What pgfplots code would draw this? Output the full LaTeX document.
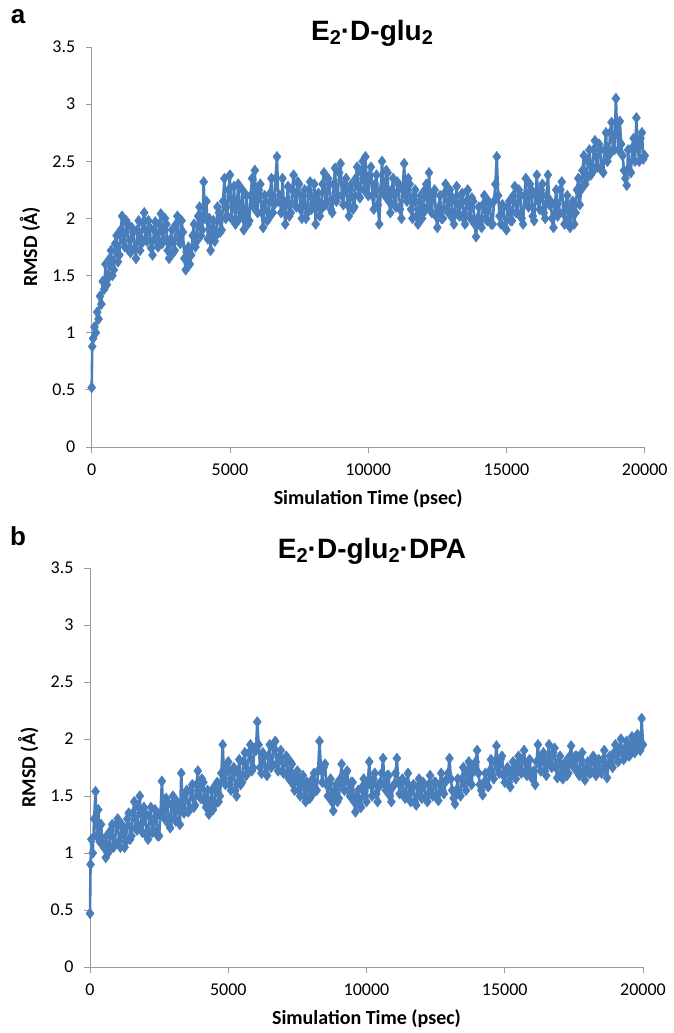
\documentclass[border=0pt]{standalone}
\usepackage{fontspec}
\setmainfont{Carlito}
\newfontfamily\arial{Liberation Sans}
\usepackage{pgfplots}
\pgfplotsset{compat=1.18}
\definecolor{xlblue}{HTML}{4A7EBB}
\definecolor{xlgrey}{HTML}{9A9A9A}

\newcommand\sub[1]{\raisebox{-0.32ex}{\fontsize{20}{20}\selectfont #1}}

\pgfplotsset{rmsd/.style={
  scale only axis,width=553pt,
  xmin=0,xmax=20000,ymin=0,ymax=3.5,
  axis x line*=bottom,axis y line*=left,
  axis line style={xlgrey,line width=0.8pt},
  tick style={xlgrey,line width=0.8pt},
  tick align=outside,major tick length=6pt,
  xtick={0,5000,10000,15000,20000},
  ytick={0,0.5,1,1.5,2,2.5,3,3.5},
  scaled x ticks=false,
  /pgf/number format/1000 sep={},
  /pgf/number format/assume math mode=true,
  tick label style={font=\fontsize{18}{18}\selectfont},
  xticklabel style={anchor=center,yshift=-17pt},
  yticklabel style={xshift=-7pt},
  xlabel={\bfseries Simulation Time (psec)},
  ylabel={\bfseries RMSD (Å)},
  label style={font=\fontsize{20}{20}\selectfont},
  xlabel style={at={(axis description cs:0.5,0)},anchor=center,yshift=-52pt},
  ylabel style={at={(axis description cs:-0.1116,0.5)},anchor=center},
  clip=false,
},
trace/.style={color=xlblue,line width=2.6pt,line join=round,mark=diamond*,mark size=5.4pt,
  mark options={solid,line width=0.4pt,draw=xlblue,fill=xlblue}}}

\begin{document}
\begin{tikzpicture}
\useasboundingbox (0,0) rectangle (674pt,-1033pt);

\node[font=\arial\bfseries\fontsize{26}{26}\selectfont] at (18pt,-17pt) {a};
\node[font=\arial\bfseries\fontsize{28}{28}\selectfont] at (372pt,-33pt) {E\sub2·D-glu\sub2};

% panel a: E2.D-glu2
\begin{axis}[rmsd,height=400pt,at={(91.7pt,-447pt)},anchor=south west]
\addplot[trace] coordinates {
(0,0.52)(20,0.88)(50,0.95)(100,1.05)(150,1.0)(200,1.18)(250,1.12)(300,1.32)(350,1.25)(400,1.45)(450,1.38)(500,1.6)(550,1.42)(600,1.48)(650,1.65)(700,1.72)(750,1.5)(800,1.55)(850,1.78)(900,1.85)(950,1.62)(1000,1.68)
(1050,1.9)(1100,2.02)(1150,1.8)(1200,1.75)(1250,1.98)(1300,1.95)(1350,1.72)(1400,1.7)(1450,1.92)(1500,1.88)(1550,1.74)(1600,1.65)(1650,1.9)(1700,1.98)(1750,1.72)(1800,1.78)(1850,1.96)(1900,2.05)(1950,1.82)(2000,1.8)
(2050,1.98)(2100,1.92)(2150,1.74)(2200,1.68)(2250,1.9)(2300,1.97)(2350,1.8)(2400,1.75)(2450,1.95)(2500,2.04)(2550,1.78)(2600,1.82)(2650,2.0)(2700,1.95)(2750,1.72)(2800,1.65)(2850,1.82)(2900,1.9)(2950,1.7)(3000,1.72)
(3050,1.95)(3100,2.02)(3150,1.82)(3200,1.78)(3250,1.98)(3300,1.88)(3350,1.65)(3400,1.55)(3450,1.7)(3500,1.75)(3550,1.6)(3600,1.68)(3650,1.85)(3700,1.95)(3750,1.75)(3800,1.8)(3850,2.02)(3900,2.1)(3950,1.85)(4000,1.9)
(4050,2.32)(4100,2.0)(4150,2.15)(4200,1.82)(4250,2.0)(4300,1.72)(4350,1.9)(4400,1.98)(4450,1.8)(4500,1.85)(4550,2.1)(4600,2.05)(4650,1.88)(4700,1.9)(4750,2.15)(4800,2.35)(4850,2.0)(4900,2.02)(4950,2.25)(5000,2.38)
(5050,2.0)(5100,2.1)(5150,2.28)(5200,1.95)(5250,2.12)(5300,2.3)(5350,2.0)(5400,2.05)(5450,2.25)(5500,1.9)(5550,2.05)(5600,2.2)(5650,1.95)(5700,1.98)(5750,2.2)(5800,2.35)(5850,2.1)(5900,2.42)(5950,2.15)(6000,2.05)
(6050,2.25)(6100,2.3)(6150,2.05)(6200,1.92)(6250,2.2)(6300,2.15)(6350,1.98)(6400,2.0)(6450,2.22)(6500,2.35)(6550,2.05)(6600,2.12)(6650,2.35)(6700,2.54)(6750,2.15)(6800,2.2)(6850,2.05)(6900,2.35)(6950,2.12)(7000,1.95)
(7050,2.15)(7100,2.28)(7150,2.02)(7200,2.05)(7250,2.25)(7300,2.38)(7350,2.12)(7400,2.1)(7450,2.32)(7500,2.3)(7550,2.08)(7600,2.0)(7650,2.2)(7700,2.25)(7750,2.0)(7800,2.05)(7850,2.25)(7900,2.32)(7950,2.08)(8000,2.12)
(8050,2.3)(8100,1.95)(8150,2.15)(8200,2.22)(8250,2.02)(8300,2.08)(8350,2.3)(8400,2.4)(8450,2.12)(8500,2.15)(8550,2.35)(8600,2.3)(8650,2.08)(8700,2.05)(8750,2.3)(8800,2.44)(8850,2.15)(8900,2.2)(8950,2.4)(9000,2.48)
(9050,2.2)(9100,2.12)(9150,2.3)(9200,2.35)(9250,2.12)(9300,2.02)(9350,2.25)(9400,2.3)(9450,2.08)(9500,2.1)(9550,2.35)(9600,2.45)(9650,2.2)(9700,2.18)(9750,2.4)(9800,2.5)(9850,2.25)(9900,2.54)(9950,2.3)(10000,2.2)
(10050,2.38)(10100,2.45)(10150,2.2)(10200,2.08)(10250,2.3)(10300,2.38)(10350,2.12)(10400,1.95)(10450,2.25)(10500,2.5)(10550,2.25)(10600,2.2)(10650,2.42)(10700,2.4)(10750,2.15)(10800,2.05)(10850,2.25)(10900,2.35)(10950,2.12)(11000,2.1)
(11050,2.32)(11100,2.3)(11150,2.08)(11200,2.0)(11250,2.25)(11300,2.48)(11350,2.2)(11400,2.15)(11450,2.35)(11500,2.3)(11550,2.08)(11600,2.0)(11650,2.2)(11700,2.25)(11750,2.02)(11800,1.95)(11850,2.15)(11900,2.2)(11950,2.0)(12000,2.05)
(12050,2.25)(12100,2.3)(12150,2.1)(12200,2.4)(12250,2.15)(12300,2.05)(12350,2.22)(12400,2.25)(12450,2.02)(12500,1.92)(12550,2.1)(12600,2.2)(12650,2.0)(12700,2.0)(12750,2.22)(12800,2.3)(12850,2.08)(12900,2.05)(12950,2.25)(13000,2.2)
(13050,2.0)(13100,1.95)(13150,2.15)(13200,2.28)(13250,2.05)(13300,2.02)(13350,2.2)(13400,2.22)(13450,2.0)(13500,1.95)(13550,2.15)(13600,2.25)(13650,2.02)(13700,2.0)(13750,2.18)(13800,2.15)(13850,1.95)(13900,1.84)(13950,2.0)(14000,2.1)
(14050,1.95)(14100,1.92)(14150,2.12)(14200,2.2)(14250,2.0)(14300,1.98)(14350,2.15)(14400,2.12)(14450,1.95)(14500,1.95)(14550,2.15)(14600,2.3)(14650,2.54)(14700,2.2)(14750,2.02)(14800,1.95)(14850,2.12)(14900,2.1)(14950,1.92)(15000,1.9)
(15050,2.1)(15100,2.15)(15150,1.98)(15200,1.98)(15250,2.2)(15300,2.28)(15350,2.05)(15400,2.05)(15450,2.25)(15500,2.2)(15550,2.0)(15600,1.95)(15650,2.2)(15700,2.35)(15750,2.12)(15800,2.1)(15850,2.3)(15900,2.25)(15950,2.02)(16000,1.98)
(16050,2.2)(16100,2.38)(16150,2.15)(16200,2.08)(16250,2.25)(16300,2.3)(16350,2.05)(16400,2.0)(16450,2.2)(16500,2.38)(16550,2.12)(16600,2.15)(16650,2.0)(16700,1.92)(16750,2.12)(16800,2.25)(16850,2.02)(16900,2.05)(16950,2.25)(17000,2.32)
(17050,2.05)(17100,1.95)(17150,2.12)(17200,2.2)(17250,2.0)(17300,1.92)(17350,2.1)(17400,2.15)(17450,1.95)(17500,2.05)(17550,2.25)(17600,2.35)(17650,2.12)(17700,2.25)(17750,2.42)(17800,2.55)(17850,2.3)(17900,2.35)(17950,2.5)(18000,2.6)
(18050,2.38)(18100,2.4)(18150,2.6)(18200,2.68)(18250,2.45)(18300,2.45)(18350,2.65)(18400,2.6)(18450,2.42)(18500,2.4)(18550,2.6)(18600,2.75)(18650,2.5)(18700,2.55)(18750,2.75)(18800,2.84)(18850,2.6)(18900,2.6)(18960,3.05)(19000,2.75)
(19050,2.6)(19100,2.85)(19150,2.65)(19200,2.55)(19250,2.42)(19300,2.35)(19350,2.29)(19400,2.6)(19450,2.42)(19500,2.4)(19550,2.62)(19600,2.7)(19650,2.5)(19700,2.88)(19750,2.62)(19800,2.5)(19850,2.7)(19900,2.75)(19950,2.52)(20000,2.55)
};
\end{axis}

\node[font=\arial\bfseries\fontsize{26}{26}\selectfont] at (18pt,-536pt) {b};
\node[font=\arial\bfseries\fontsize{28}{28}\selectfont] at (372pt,-551pt) {E\sub2·D-glu\sub2·DPA};

% panel b: E2.D-glu2.DPA
\begin{axis}[rmsd,height=399pt,at={(90pt,-967pt)},anchor=south west]
\addplot[trace] coordinates {
(0,0.47)(20,0.9)(50,1.12)(100,1.0)(150,1.3)(200,1.54)(250,1.15)(300,1.38)(350,1.1)(400,1.25)(450,1.1)(500,1.05)(570,0.96)(600,1.15)(650,1.0)(700,1.02)(750,1.2)(800,1.25)(850,1.05)(900,1.08)(950,1.25)(1000,1.3)
(1050,1.1)(1100,1.05)(1150,1.25)(1200,1.22)(1250,1.05)(1300,1.1)(1350,1.3)(1400,1.35)(1450,1.12)(1500,1.15)(1550,1.35)(1600,1.45)(1650,1.22)(1700,1.2)(1750,1.4)(1800,1.5)(1850,1.25)(1900,1.18)(1950,1.4)(2000,1.35)
(2050,1.15)(2100,1.12)(2150,1.32)(2200,1.4)(2250,1.18)(2300,1.2)(2350,1.38)(2400,1.32)(2450,1.15)(2500,1.15)(2550,1.35)(2600,1.63)(2650,1.35)(2700,1.3)(2750,1.48)(2800,1.45)(2850,1.25)(2900,1.22)(2950,1.42)(3000,1.5)
(3050,1.3)(3100,1.28)(3150,1.45)(3200,1.4)(3250,1.25)(3300,1.7)(3350,1.4)(3400,1.35)(3450,1.52)(3500,1.55)(3550,1.36)(3600,1.38)(3650,1.55)(3700,1.6)(3750,1.4)(3800,1.42)(3850,1.6)(3900,1.72)(3950,1.5)(4000,1.48)
(4050,1.65)(4100,1.62)(4150,1.45)(4200,1.4)(4250,1.55)(4300,1.34)(4350,1.45)(4400,1.55)(4450,1.38)(4500,1.42)(4550,1.6)(4600,1.62)(4650,1.45)(4700,1.5)(4750,1.7)(4800,1.95)(4850,1.65)(4900,1.6)(4950,1.78)(5000,1.8)
(5050,1.6)(5100,1.55)(5150,1.72)(5200,1.75)(5250,1.55)(5300,1.5)(5350,1.7)(5400,1.82)(5450,1.6)(5500,1.62)(5550,1.8)(5600,1.88)(5650,1.68)(5700,1.7)(5750,1.88)(5800,1.95)(5850,1.72)(5900,1.75)(5950,1.92)(6000,1.9)
(6050,2.15)(6100,1.95)(6150,1.75)(6200,1.7)(6250,1.88)(6300,1.85)(6350,1.7)(6400,1.68)(6450,1.85)(6500,1.95)(6550,1.75)(6600,1.78)(6650,1.92)(6700,1.98)(6750,1.78)(6800,1.72)(6850,1.85)(6900,1.9)(6950,1.72)(7000,1.7)
(7050,1.82)(7100,1.85)(7150,1.68)(7200,1.65)(7250,1.8)(7300,1.78)(7350,1.6)(7400,1.55)(7450,1.7)(7500,1.72)(7550,1.55)(7600,1.5)(7650,1.65)(7700,1.68)(7750,1.5)(7800,1.45)(7850,1.62)(7900,1.6)(7950,1.48)(8000,1.5)
(8050,1.65)(8100,1.7)(8150,1.55)(8200,1.55)(8250,1.72)(8300,1.98)(8350,1.75)(8400,1.62)(8450,1.75)(8500,1.78)(8550,1.6)(8600,1.5)(8650,1.62)(8700,1.65)(8750,1.45)(8800,1.37)(8850,1.55)(8900,1.6)(8950,1.45)(9000,1.48)
(9050,1.65)(9100,1.78)(9150,1.6)(9200,1.55)(9250,1.7)(9300,1.72)(9350,1.55)(9400,1.5)(9450,1.62)(9500,1.62)(9550,1.45)(9600,1.36)(9650,1.5)(9700,1.55)(9750,1.42)(9800,1.4)(9850,1.58)(9900,1.65)(9950,1.5)(10000,1.45)
(10050,1.62)(10100,1.8)(10150,1.6)(10200,1.5)(10250,1.65)(10300,1.7)(10350,1.52)(10400,1.45)(10450,1.58)(10500,1.62)(10550,1.7)(10600,1.83)(10650,1.6)(10700,1.55)(10750,1.68)(10800,1.68)(10850,1.5)(10900,1.45)(10950,1.58)(11000,1.6)
(11050,1.7)(11100,1.83)(11150,1.62)(11200,1.52)(11250,1.62)(11300,1.65)(11350,1.5)(11400,1.48)(11450,1.62)(11500,1.7)(11550,1.52)(11600,1.45)(11650,1.58)(11700,1.6)(11750,1.45)(11800,1.42)(11850,1.58)(11900,1.65)(11950,1.5)(12000,1.48)
(12050,1.62)(12100,1.6)(12150,1.48)(12200,1.45)(12250,1.6)(12300,1.68)(12350,1.52)(12400,1.5)(12450,1.62)(12500,1.62)(12550,1.5)(12600,1.46)(12650,1.6)(12700,1.7)(12750,1.55)(12800,1.52)(12850,1.62)(12900,1.65)(12950,1.7)(13000,1.83)
(13050,1.65)(13100,1.55)(13150,1.48)(13200,1.43)(13250,1.55)(13300,1.65)(13350,1.52)(13400,1.5)(13450,1.65)(13500,1.75)(13550,1.6)(13600,1.55)(13650,1.7)(13700,1.8)(13750,1.62)(13800,1.6)(13850,1.75)(13900,1.72)(13950,1.8)(14000,1.9)
(14050,1.7)(14100,1.6)(14150,1.55)(14200,1.51)(14250,1.62)(14300,1.7)(14350,1.6)(14400,1.58)(14450,1.72)(14500,1.82)(14550,1.68)(14600,1.65)(14650,1.8)(14700,1.94)(14750,1.75)(14800,1.7)(14850,1.82)(14900,1.85)(14950,1.68)(15000,1.62)
(15050,1.72)(15100,1.75)(15150,1.62)(15200,1.58)(15250,1.7)(15300,1.8)(15350,1.68)(15400,1.65)(15450,1.78)(15500,1.85)(15550,1.72)(15600,1.7)(15650,1.82)(15700,1.9)(15750,1.72)(15800,1.68)(15850,1.8)(15900,1.82)(15950,1.68)(16000,1.65)
(16050,1.72)(16100,1.6)(16150,1.8)(16200,1.95)(16250,1.78)(16300,1.72)(16350,1.85)(16400,1.88)(16450,1.72)(16500,1.68)(16550,1.82)(16600,1.95)(16650,1.78)(16700,1.75)(16750,1.88)(16800,1.92)(16850,1.75)(16900,1.66)(16950,1.8)(17000,1.85)
(17050,1.7)(17100,1.65)(17150,1.78)(17200,1.8)(17250,1.68)(17300,1.7)(17350,1.85)(17400,1.94)(17450,1.78)(17500,1.75)(17550,1.85)(17600,1.85)(17650,1.7)(17700,1.68)(17750,1.82)(17800,1.88)(17850,1.72)(17900,1.64)(17950,1.75)(18000,1.8)
(18050,1.7)(18100,1.7)(18150,1.82)(18200,1.85)(18250,1.72)(18300,1.68)(18350,1.8)(18400,1.82)(18450,1.72)(18500,1.7)(18550,1.82)(18600,1.9)(18650,1.75)(18700,1.66)(18750,1.78)(18800,1.85)(18850,1.78)(18900,1.75)(18950,1.88)(19000,1.95)
(19050,1.85)(19100,1.8)(19150,1.92)(19200,2.0)(19250,1.88)(19300,1.82)(19350,1.92)(19400,1.98)(19450,1.88)(19500,1.85)(19550,1.95)(19600,2.02)(19650,1.9)(19700,1.88)(19750,1.98)(19800,2.04)(19850,1.92)(19900,1.9)(19950,2.18)(20000,1.95)
};
\end{axis}
\end{tikzpicture}
\end{document}
